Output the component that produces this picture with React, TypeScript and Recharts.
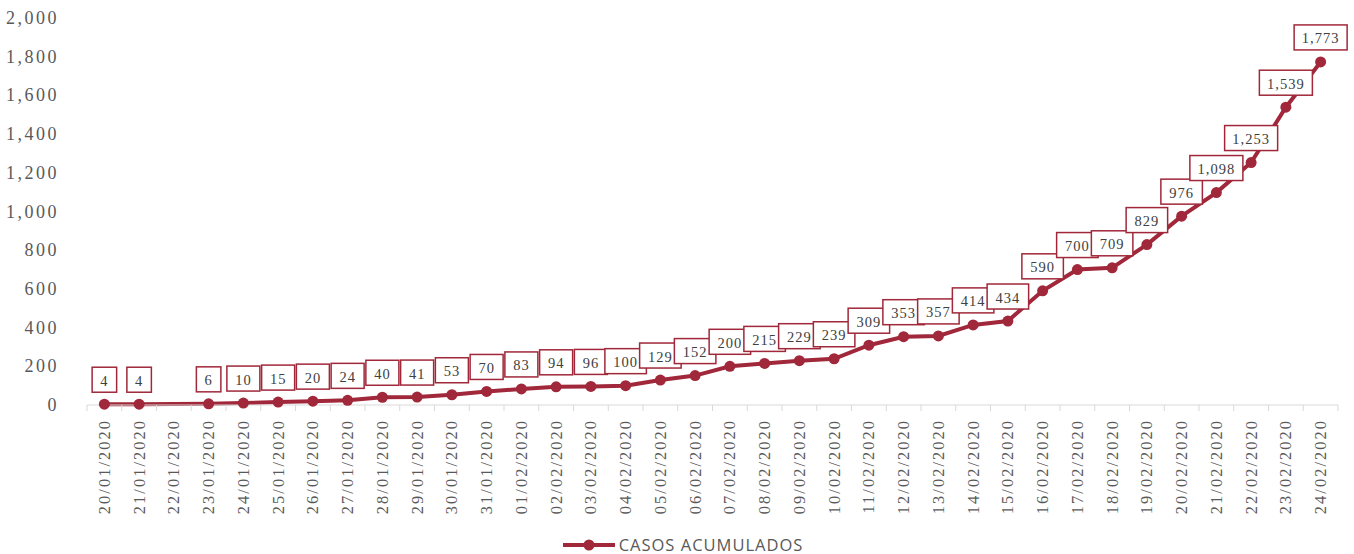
import { LineChart, Line, XAxis, YAxis, Legend, LabelList } from "recharts";

const fechas = [
    "20/01/2020", "21/01/2020", "22/01/2020", "23/01/2020", "24/01/2020", "25/01/2020",
    "26/01/2020", "27/01/2020", "28/01/2020", "29/01/2020", "30/01/2020", "31/01/2020",
    "01/02/2020", "02/02/2020", "03/02/2020", "04/02/2020", "05/02/2020", "06/02/2020",
    "07/02/2020", "08/02/2020", "09/02/2020", "10/02/2020", "11/02/2020", "12/02/2020",
    "13/02/2020", "14/02/2020", "15/02/2020", "16/02/2020", "17/02/2020", "18/02/2020",
    "19/02/2020", "20/02/2020", "21/02/2020", "22/02/2020", "23/02/2020", "24/02/2020",
];

const casos: (number | null)[] = [
    4, 4, null, 6, 10, 15, 20, 24, 40, 41, 53, 70,
    83, 94, 96, 100, 129, 152, 200, 215, 229, 239, 309, 353,
    357, 414, 434, 590, 700, 709, 829, 976, 1098, 1253, 1539, 1773,
];

const yTicks = [0, 200, 400, 600, 800, 1000, 1200, 1400, 1600, 1800, 2000];

const data = fechas.map((fecha, i) => ({ fecha, casos: casos[i] }));

const RED = "#a0283a";
const GRAY = "#595959";
const SERIF = "'Liberation Serif', 'DejaVu Serif', serif";
const HALF_BAND = 17.375;

const fmt = (v: number) => v.toLocaleString("en-US");

const XTick = (props: any) => {
    const { x, y, payload, index } = props;
    const last = index === fechas.length - 1;
    return (
        <g>
            <line x1={x - HALF_BAND} x2={x - HALF_BAND} y1={y - 8} y2={y - 2} stroke="#d9d9d9" />
            {last && (
                <line x1={x + HALF_BAND} x2={x + HALF_BAND} y1={y - 8} y2={y - 2} stroke="#d9d9d9" />
            )}
            <text
                x={x}
                y={y + 6}
                transform={`rotate(-90, ${x}, ${y + 6})`}
                textAnchor="end"
                dominantBaseline="central"
                fontFamily={SERIF}
                fontSize={16.5}
                letterSpacing={2}
                fill={GRAY}
            >
                {payload.value}
            </text>
        </g>
    );
};

const YTick = (props: any) => {
    const { x, y, payload } = props;
    return (
        <text
            x={x}
            y={y}
            textAnchor="end"
            dominantBaseline="central"
            fontFamily={SERIF}
            fontSize={18}
            letterSpacing={2.5}
            fill={GRAY}
        >
            {fmt(payload.value)}
        </text>
    );
};

const BoxLabel = (props: any) => {
    const { x, y, value } = props;
    if (value == null) return null;
    const txt = fmt(value);
    const digits = txt.replace(/,/g, "").length;
    const commas = txt.length - digits;
    const w = digits * 8.5 + commas * 3 + 16;
    const h = 25;
    const bottom = y - 12;
    return (
        <g>
            <rect x={x - w / 2} y={bottom - h} width={w} height={h} fill="#fff" stroke={RED} strokeWidth={1.5} />
            <text
                x={x}
                y={bottom - h / 2 + 1}
                textAnchor="middle"
                dominantBaseline="central"
                fontFamily={SERIF}
                fontSize={14.5}
                letterSpacing={1}
                fill="#404040"
            >
                {txt}
            </text>
        </g>
    );
};

const LegendContent = () => (
    <div style={{ display: "flex", justifyContent: "center", alignItems: "center" }}>
        <svg width={52} height={14} style={{ marginRight: 4 }}>
            <line x1={0} x2={52} y1={7} y2={7} stroke={RED} strokeWidth={4} />
            <circle cx={26} cy={7} r={5.5} fill={RED} />
        </svg>
        <span style={{ fontFamily: "'Open Sans', sans-serif", fontSize: 16.5, letterSpacing: 1, color: GRAY }}>
            CASOS ACUMULADOS
        </span>
    </div>
);

export default function App() {
    return (
        <div style={{ position: "absolute", left: 0, top: 0, background: "#fff" }}>
            <LineChart
                width={1354}
                height={554}
                data={data}
                margin={{ top: 18, right: 16, left: 0, bottom: 0 }}
            >
                <XAxis
                    dataKey="fecha"
                    interval={0}
                    height={125}
                    padding={{ left: HALF_BAND, right: HALF_BAND }}
                    tickLine={false}
                    axisLine={{ stroke: "#d9d9d9" }}
                    tick={<XTick />}
                />
                <YAxis
                    width={87}
                    domain={[0, 2000]}
                    ticks={yTicks}
                    axisLine={false}
                    tickLine={false}
                    tick={<YTick />}
                    tickMargin={22}
                />
                <Legend
                    verticalAlign="bottom"
                    height={24}
                    content={<LegendContent />}
                    wrapperStyle={{ top: 533, left: 6, width: 1354 }}
                />
                <Line
                    dataKey="casos"
                    name="CASOS ACUMULADOS"
                    stroke={RED}
                    strokeWidth={4}
                    dot={{ r: 5.5, fill: RED, stroke: RED, strokeWidth: 0 }}
                    connectNulls
                    isAnimationActive={false}
                >
                    <LabelList dataKey="casos" content={<BoxLabel />} />
                </Line>
            </LineChart>
        </div>
    );
}
